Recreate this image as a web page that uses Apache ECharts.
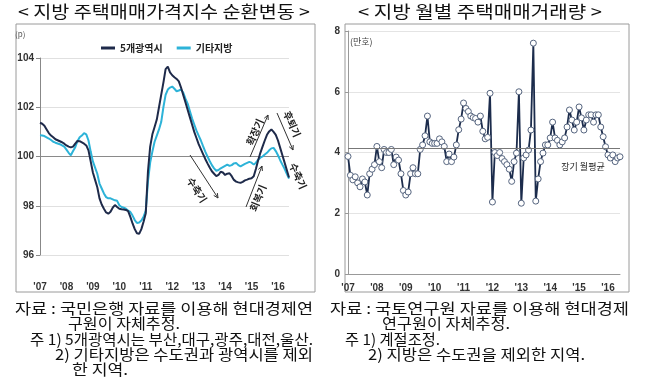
<!DOCTYPE html>
<html><head><meta charset="utf-8">
<script src="https://cdn.jsdelivr.net/npm/echarts/dist/echarts.min.js"></script>
<style>html,body{margin:0;padding:0;background:#fff}#c{width:650px;height:388px}</style>
</head><body><div id="c"></div>
<script>
// ---- data ----
const yearTicks = ["'07","'08","'09","'10","'11","'12","'13","'14","'15","'16"];
const seriesNames = ['5개광역시', '기타지방'];
const metro5 = [101.37,101.33,101.25,101.1,100.95,100.85,100.78,100.7,100.66,100.62,100.58,100.52,
100.45,100.4,100.37,100.4,100.52,100.63,100.62,100.57,100.52,100.45,100.25,99.8,
99.35,99.05,98.75,98.3,98.05,97.88,97.73,97.68,97.76,97.92,98.03,97.95,
97.88,97.86,97.85,97.83,97.78,97.55,97.28,97.05,96.88,96.86,97.05,97.35,
97.7,99.4,100.4,100.9,101.2,101.5,102.0,102.5,103.0,103.55,103.65,103.42,
103.3,103.22,103.15,103.05,102.8,102.5,102.2,101.9,101.6,101.3,101.0,100.75,
100.5,100.3,100.1,99.9,99.72,99.55,99.4,99.3,99.2,99.25,99.38,99.35,
99.25,99.3,99.32,99.2,99.05,98.98,98.95,98.93,98.97,99.03,99.06,99.1,
99.12,99.2,99.5,99.85,100.15,100.4,100.65,100.88,101.02,101.1,101.0,100.88,
100.65,100.35,100.05,99.75,99.45,99.15];
const otherRegion = [100.86,100.85,100.83,100.78,100.73,100.67,100.6,100.56,100.53,100.5,100.45,100.4,
100.28,100.15,100.05,100.22,100.38,100.62,100.78,100.85,100.95,100.9,100.65,100.2,
99.8,99.55,99.3,98.9,98.7,98.5,98.35,98.3,98.3,98.26,98.22,98.2,
98.02,97.95,97.92,97.88,97.8,97.75,97.6,97.42,97.3,97.32,97.4,97.55,
97.8,99.0,99.75,100.2,100.6,100.85,101.1,101.4,102.0,102.5,102.72,102.8,
102.84,102.75,102.65,102.68,102.72,102.6,102.35,102.15,101.85,101.55,101.3,101.05,
100.85,100.65,100.42,100.2,100.0,99.82,99.65,99.52,99.42,99.45,99.52,99.57,
99.62,99.67,99.62,99.65,99.72,99.74,99.65,99.6,99.65,99.7,99.74,99.78,
99.75,99.67,99.75,99.87,99.95,100.0,100.08,100.15,100.25,100.33,100.35,100.22,
100.05,99.85,99.67,99.5,99.3,99.1];
const volume = [3.87,3.25,3.1,3.2,3.0,2.87,3.13,3.03,2.6,3.3,3.45,3.6,
4.2,3.7,3.5,4.1,4.0,4.0,4.1,3.6,3.85,3.75,3.3,2.75,
2.6,2.7,3.3,3.5,3.3,3.3,4.1,4.25,4.55,5.2,4.35,4.3,
4.3,4.3,4.45,4.35,4.2,3.7,3.95,3.7,3.85,4.25,4.75,5.1,
5.63,5.45,5.35,5.2,5.15,5.12,5.0,5.2,4.7,4.45,4.5,5.95,
2.37,4.0,3.9,4.0,3.8,3.7,3.6,3.45,3.05,3.7,3.98,6.0,
2.33,3.82,3.92,4.08,4.74,7.6,2.4,3.13,3.7,3.98,4.25,4.25,
4.48,5.0,4.48,4.4,4.25,4.35,4.48,4.84,5.4,5.07,4.74,5.0,
5.5,5.14,4.74,5.07,5.24,5.24,5.0,5.24,5.24,4.84,4.52,4.19,
3.92,3.82,3.92,3.7,3.82,3.86];
const longTermAvg = [4.14];
const months = [];
for (let y = 2007; y <= 2016; y++) for (let m = 1; m <= 12; m++) if (months.length < metro5.length) months.push(y + '.' + (m < 10 ? '0' + m : m));

// ---- chart ----
const chart = echarts.init(document.getElementById('c'), null, {renderer: 'canvas'});
const KR = "'Noto Sans CJK KR', sans-serif";
const tickFmt = v => yearTicks[Math.floor(months.indexOf(v) / 12)];
const tickInt = (i) => i % 12 === 0;
const mctx = document.createElement('canvas').getContext('2d');

function arrow(x1, y1, x2, y2) {
  const a = Math.atan2(y2 - y1, x2 - x1), L = 5, s = 0.45;
  return [
    {type:'line', shape:{x1, y1, x2, y2}, style:{stroke:'#333', lineWidth:1}, z:10},
    {type:'polyline', shape:{points:[[x2 - L*Math.cos(a - s), y2 - L*Math.sin(a - s)], [x2, y2], [x2 - L*Math.cos(a + s), y2 - L*Math.sin(a + s)]]}, style:{stroke:'#333', lineWidth:1, fill:null}, z:10}
  ];
}
function rtext(txt, x, y, deg) {
  return {type:'text', x, y, rotation: deg * Math.PI / 180, style:{text:txt, font:"bold 10px " + KR, fill:'#222', align:'center', verticalAlign:'middle'}, z:10};
}
function fit(txt, x, y, w, size, align) {
  const font = size + 'px ' + KR;
  mctx.font = font;
  const m = mctx.measureText(txt).width;
  return {type:'text', x, y, scaleX: w / m, style:{text:txt, font, fill:'#111', align: align || 'left', verticalAlign:'middle'}};
}

const option = {
  animation: false,
  backgroundColor: '#fff',
  legend: {
    data: seriesNames, left: 96, top: 38, icon: 'rect', itemWidth: 14, itemHeight: 3, itemGap: 14,
    textStyle: {fontSize: 10, fontWeight: 'bold', color: '#222', fontFamily: KR}
  },
  grid: [
    {left: 40, top: 58, width: 249, height: 197},
    {left: 348, top: 31, width: 272, height: 243}
  ],
  xAxis: [
    {gridIndex: 0, type: 'category', data: months, boundaryGap: false,
     axisLine: {show: false}, axisTick: {show: false},
     axisLabel: {interval: tickInt, formatter: tickFmt, margin: 27, fontSize: 10, fontWeight: 'bold', color: '#333', fontFamily: 'Liberation Sans'},
     splitLine: {show: false}},
    {gridIndex: 1, type: 'category', data: months, boundaryGap: false,
     axisLine: {show: true, lineStyle: {color: '#999'}}, axisTick: {show: false},
     axisLabel: {interval: tickInt, formatter: tickFmt, margin: 9, fontSize: 10, fontWeight: 'bold', color: '#333', fontFamily: 'Liberation Sans'},
     splitLine: {show: false}}
  ],
  yAxis: [
    {gridIndex: 0, type: 'value', min: 96, max: 104, interval: 2,
     axisLine: {show: true, lineStyle: {color: '#888'}}, axisTick: {show: true, length: 4, lineStyle: {color: '#888'}},
     axisLabel: {fontSize: 10, fontWeight: 'bold', color: '#333', margin: 6, fontFamily: 'Liberation Sans'},
     splitLine: {show: true, lineStyle: {color: ['#e0e0e0', '#e0e0e0', '#8a8a8a', '#e0e0e0', '#e0e0e0'], width: 1}}},
    {gridIndex: 1, type: 'value', min: 0, max: 8, interval: 2,
     axisLine: {show: true, lineStyle: {color: '#999'}}, axisTick: {show: true, length: 3, lineStyle: {color: '#999'}},
     axisLabel: {fontSize: 10, fontWeight: 'bold', color: '#333', margin: 8, fontFamily: 'Liberation Sans'},
     splitLine: {show: true, lineStyle: {color: '#e4e4e4', width: 1}}}
  ],
  series: [
    {name: seriesNames[0], type: 'line', xAxisIndex: 0, yAxisIndex: 0, data: metro5, showSymbol: false, symbol: 'none',
     lineStyle: {color: '#1e2a4a', width: 2}, itemStyle: {color: '#1e2a4a'}, z: 3},
    {name: seriesNames[1], type: 'line', xAxisIndex: 0, yAxisIndex: 0, data: otherRegion, showSymbol: false, symbol: 'none',
     lineStyle: {color: '#2db3d8', width: 2}, itemStyle: {color: '#2db3d8'}, z: 2},
    {name: '거래량', type: 'line', xAxisIndex: 1, yAxisIndex: 1, data: volume, symbol: 'circle', symbolSize: 6,
     showSymbol: true, showAllSymbol: true,
     lineStyle: {color: '#1c2c4c', width: 1.8}, itemStyle: {color: '#fff', borderColor: '#56657f', borderWidth: 1},
     markLine: {silent: true, symbol: 'none', label: {show: false}, lineStyle: {color: '#777', width: 1, type: 'solid'},
       data: [{yAxis: longTermAvg[0]}]}, z: 3}
  ],
  graphic: [
    {type: 'rect', shape: {x: 16, y: 24, width: 299, height: 268}, style: {stroke: '#9a9a9a', fill: null, lineWidth: 1}},
    {type: 'rect', shape: {x: 345, y: 24, width: 284, height: 268}, style: {stroke: '#9a9a9a', fill: null, lineWidth: 1}},
    fit('< 지방 주택매매가격지수 순환변동 >', 164, 12, 292, 17, 'center'),
    fit('< 지방 월별 주택매매거래량 >', 480, 12, 244, 17, 'center'),
    {type: 'text', x: 15, y: 34, style: {text: '(p)', font: "8px " + KR, fill: '#555', verticalAlign: 'middle'}},
    {type: 'text', x: 350, y: 42, style: {text: '(만호)', font: "9px " + KR, fill: '#444', verticalAlign: 'middle'}},
    {type: 'text', x: 583, y: 167, style: {text: '장기 월평균', font: "9px " + KR, fill: '#222', align: 'center', verticalAlign: 'middle'}},
    ...arrow(190, 155, 218, 198), rtext('수축기', 197, 190, -57),
    ...arrow(246, 207, 262, 166), rtext('회복기', 258, 198, 68),
    ...arrow(250, 157, 268, 115), rtext('확장기', 255, 132, 66),
    ...arrow(277, 113, 293, 150), rtext('후퇴기', 292, 124, -66),
    rtext('수축기', 298, 176, -66),
    fit('자료 : 국민은행 자료를 이용해 현대경제연', 15, 308, 298, 15),
    fit('구원이 자체추정.', 68, 323, 112, 15),
    fit('주 1) 5개광역시는 부산,대구,광주,대전,울산.', 30, 339, 283, 15),
    fit('2) 기타지방은 수도권과 광역시를 제외', 55, 354, 258, 15),
    fit('한 지역.', 72, 369, 56, 15),
    fit('자료 : 국토연구원 자료를 이용해 현대경제', 330, 308, 299, 15),
    fit('연구원이 자체추정.', 382, 323, 128, 15),
    fit('주 1) 계절조정.', 345, 339, 95, 15),
    fit('2) 지방은 수도권을 제외한 지역.', 368, 354, 217, 15)
  ]
};
chart.setOption(option);
</script></body></html>
